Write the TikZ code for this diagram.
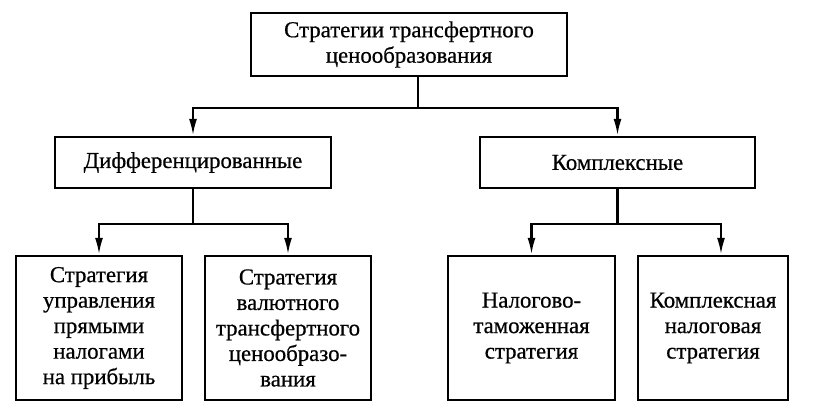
\documentclass[tikz,border=0pt]{standalone}
\usepackage{fontspec}
\setmainfont{Liberation Serif}[FakeBold=0.6]
\usetikzlibrary{arrows.meta}

\begin{document}
\begin{tikzpicture}[x=1pt, y=-1pt,
  block/.style={draw, line width=2.4pt, align=center, inner sep=0pt,
    font=\fontsize{22.8}{25.5}\selectfont},
  link/.style={line width=2.4pt, -{Latex[length=17pt,width=8pt]}}]

% ad hoc bounding box
\useasboundingbox (0, 0) rectangle (823, 419);

% top level
\node[block, minimum width=316, minimum height=63] (top) at (409, 44.5)
  {Стратегии трансфертного\\ценообразования};

% second level
\node[block, minimum width=276, minimum height=51] (diff) at (193, 162.5) {Дифференцированные};
\node[block, minimum width=275, minimum height=51] (comp) at (617.5, 162.5) {Комплексные};

% bottom level
\node[block, minimum width=166, minimum height=144] (direct) at (99, 328)
  {Стратегия\\управления\\прямыми\\налогами\\на прибыль};
\node[block, minimum width=166, minimum height=144] (currency) at (288, 328)
  {Стратегия\\валютного\\трансфертного\\ценообразо-\\вания};
\node[block, minimum width=167, minimum height=144] (customs) at (531.5, 328)
  {Налогово-\\таможенная\\стратегия};
\node[block, minimum width=150, minimum height=144] (complex) at (713, 328)
  {Комплексная\\налоговая\\стратегия};

% arrows
\draw[link] ([xshift=9]top.south) -- ++(0, 31) -| (diff.north);
\draw[link] ([xshift=9]top.south) -- ++(0, 31) -| (comp.north);
\draw[link] (diff.south) -- ++(0, 35) -| (direct.north);
\draw[link] (diff.south) -- ++(0, 35) -| (currency.north);
\draw[link] (comp.south) -- ++(0, 35) -| (customs.north);
\draw[link] (comp.south) -- ++(0, 35) -| ([xshift=8]complex.north);

\end{tikzpicture}
\end{document}
